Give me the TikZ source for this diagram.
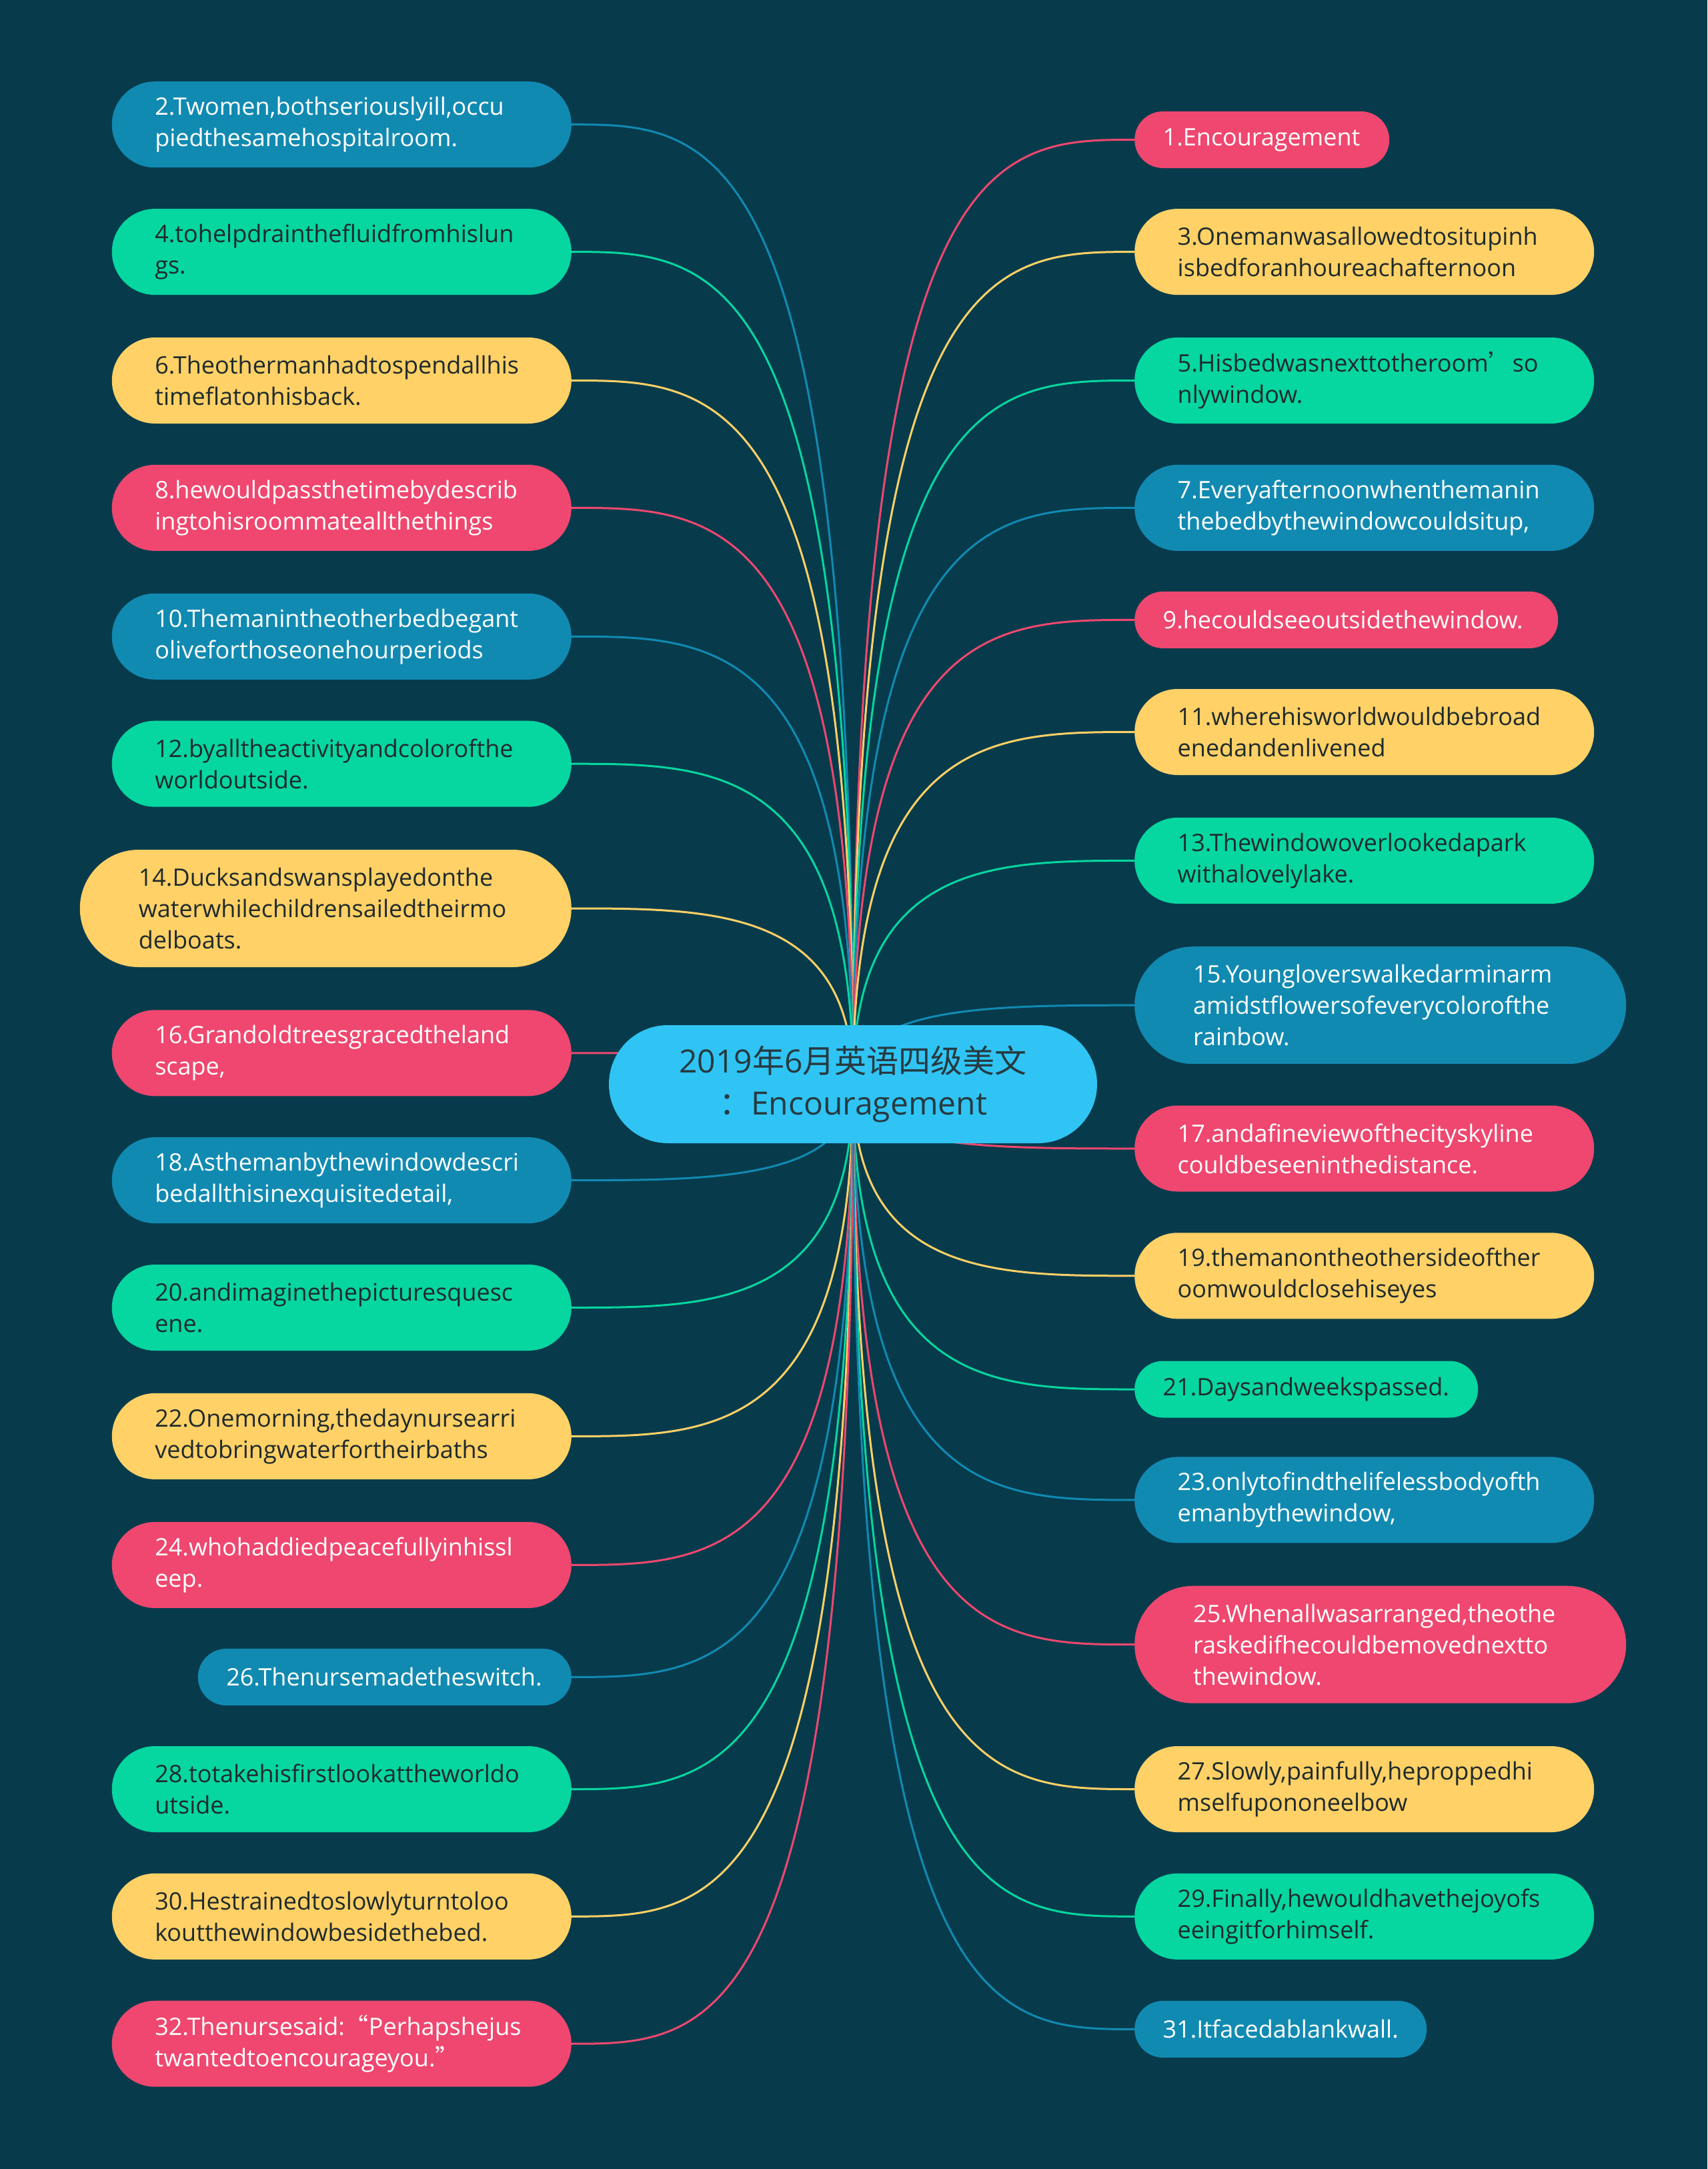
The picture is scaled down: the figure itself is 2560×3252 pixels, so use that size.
\documentclass[tikz,border=0pt]{standalone}
\usepackage{fontspec}
\setmainfont{Open Sans}
\newfontfamily\cjk{Noto Sans CJK SC}
\usetikzlibrary{calc,backgrounds}
\definecolor{bgc}{HTML}{073B4C}
\definecolor{cpk}{HTML}{EF476F}
\definecolor{cyl}{HTML}{FFD166}
\definecolor{cgr}{HTML}{06D6A0}
\definecolor{cbl}{HTML}{118AB2}
\definecolor{ccen}{HTML}{30C4F4}
\definecolor{dtext}{HTML}{1F2A2C}
\definecolor{ctext}{HTML}{263A40}
\newcommand\conn[2]{\draw[#1] (C.center) .. controls (C.center |- #2) and ($(C.center |- #2)!0.5!(#2)$) .. (#2);}
\begin{document}
\begin{tikzpicture}[x=1pt,y=-1pt,
  box/.style={inner ysep=0pt, align=left, font=\fontsize{36}{47}\selectfont},
  one/.style={box, minimum height=85pt, inner xsep=42.5pt, rounded corners=42.5pt},
  two/.style={box, minimum height=129pt, inner xsep=64.5pt, rounded corners=64.5pt},
  three/.style={box, minimum height=176pt, inner xsep=88pt, rounded corners=88pt},
  pk/.style={fill=cpk, text=white},
  yl/.style={fill=cyl, text=dtext},
  gr/.style={fill=cgr, text=dtext},
  bl/.style={fill=cbl, text=white},
  lk/.style={line width=3pt},
  lpk/.style={lk, draw=cpk},
  lyl/.style={lk, draw=cyl},
  lgr/.style={lk, draw=cgr},
  lbl/.style={lk, draw=cbl},
  lft/.style={anchor=east},
  rgt/.style={anchor=west}]
\useasboundingbox (0,0) rectangle (2560,3252);
% centre
\node[fill=ccen, text=ctext, minimum width=732pt, minimum height=177pt, rounded corners=88.5pt, align=center, inner sep=0pt, font=\fontsize{48}{63}\selectfont] (C) at (1279,1625.5) {2019{\cjk 年}6{\cjk 月英语四级美文}\\{\cjk ：}Encouragement};
% left column
\node[two,bl,lft,text width=560pt] (l2) at (857,186.7) {2.Twomen,bothseriouslyill,occu\\piedthesamehospitalroom.};
\node[two,gr,lft,text width=560pt] (l4) at (857,377.6) {4.tohelpdrainthefluidfromhislun\\gs.};
\node[two,yl,lft,text width=560pt] (l6) at (857,570.5) {6.Theothermanhadtospendallhis\\timeflatonhisback.};
\node[two,pk,lft,text width=560pt] (l8) at (857,761.4) {8.hewouldpassthetimebydescrib\\ingtohisroommateallthethings};
\node[two,bl,lft,text width=560pt] (l10) at (857,954.3) {10.Themanintheotherbedbegant\\oliveforthoseonehourperiods};
\node[two,gr,lft,text width=560pt] (l12) at (857,1145.2) {12.byalltheactivityandcolorofthe\\worldoutside.};
\node[three,yl,lft,text width=561pt] (l14) at (857,1362) {14.Ducksandswansplayedonthe\\waterwhilechildrensailedtheirmo\\delboats.};
\node[two,pk,lft,text width=560pt] (l16) at (857,1578.8) {16.Grandoldtreesgracedtheland\\scape,};
\node[two,bl,lft,text width=560pt] (l18) at (857,1769.6) {18.Asthemanbythewindowdescri\\bedallthisinexquisitedetail,};
\node[two,gr,lft,text width=560pt] (l20) at (857,1960.5) {20.andimaginethepicturesquesc\\ene.};
\node[two,yl,lft,text width=560pt] (l22) at (857,2153.4) {22.Onemorning,thedaynursearri\\vedtobringwaterfortheirbaths};
\node[two,pk,lft,text width=560pt] (l24) at (857,2346.4) {24.whohaddiedpeacefullyinhissl\\eep.};
\node[one,bl,lft,text width=475pt] (l26) at (857,2514.4) {26.Thenursemadetheswitch.};
\node[two,gr,lft,text width=560pt] (l28) at (857,2682.5) {28.totakehisfirstlookattheworldo\\utside.};
\node[two,yl,lft,text width=560pt] (l30) at (857,2873.3) {30.Hestrainedtoslowlyturntoloo\\koutthewindowbesidethebed.};
\node[two,pk,lft,text width=560pt] (l32) at (857,3064.2) {32.Thenursesaid:{\cjk “}Perhapshejus\\twantedtoencourageyou.{\cjk ”}};
% right column
\node[one,pk,rgt,text width=297pt] (r1) at (1701,209.5) {1.Encouragement};
\node[two,yl,rgt,text width=560pt] (r3) at (1701,377.6) {3.Onemanwasallowedtositupinh\\isbedforanhoureachafternoon};
\node[two,gr,rgt,text width=560pt] (r5) at (1701,570.5) {5.Hisbedwasnexttotheroom{\cjk ’}so\\nlywindow.};
\node[two,bl,rgt,text width=560pt] (r7) at (1701,761.4) {7.Everyafternoonwhenthemanin\\thebedbythewindowcouldsitup,};
\node[one,pk,rgt,text width=550pt] (r9) at (1701,929.4) {9.hecouldseeoutsidethewindow.};
\node[two,yl,rgt,text width=560pt] (r11) at (1701,1097.5) {11.wherehisworldwouldbebroad\\enedandenlivened};
\node[two,gr,rgt,text width=560pt] (r13) at (1701,1290.4) {13.Thewindowoverlookedapark\\withalovelylake.};
\node[three,bl,rgt,text width=561pt] (r15) at (1701,1507.2) {15.Youngloverswalkedarminarm\\amidstflowersofeverycolorofthe\\rainbow.};
\node[two,pk,rgt,text width=560pt] (r17) at (1701,1722) {17.andafineviewofthecityskyline\\couldbeseeninthedistance.};
\node[two,yl,rgt,text width=560pt] (r19) at (1701,1912.8) {19.themanontheothersideofther\\oomwouldclosehiseyes};
\node[one,gr,rgt,text width=430pt] (r21) at (1701,2083) {21.Daysandweekspassed.};
\node[two,bl,rgt,text width=560pt] (r23) at (1701,2248.9) {23.onlytofindthelifelessbodyofth\\emanbythewindow,};
\node[three,pk,rgt,text width=561pt] (r25) at (1701,2465.7) {25.Whenallwasarranged,theothe\\raskedifhecouldbemovednextto\\thewindow.};
\node[two,yl,rgt,text width=560pt] (r27) at (1701,2682.5) {27.Slowly,painfully,heproppedhi\\mselfupononeelbow};
\node[two,gr,rgt,text width=560pt] (r29) at (1701,2873.3) {29.Finally,hewouldhavethejoyofs\\eeingitforhimself.};
\node[one,bl,rgt,text width=353pt] (r31) at (1701,3042.4) {31.Itfacedablankwall.};
\begin{scope}[on background layer]
\fill[bgc] (0,0) rectangle (2560,3252);
\conn{lbl}{l2.east}
\conn{lgr}{l4.east}
\conn{lyl}{l6.east}
\conn{lpk}{l8.east}
\conn{lbl}{l10.east}
\conn{lgr}{l12.east}
\conn{lyl}{l14.east}
\conn{lpk}{l16.east}
\conn{lbl}{l18.east}
\conn{lgr}{l20.east}
\conn{lyl}{l22.east}
\conn{lpk}{l24.east}
\conn{lbl}{l26.east}
\conn{lgr}{l28.east}
\conn{lyl}{l30.east}
\conn{lpk}{l32.east}
\conn{lpk}{r1.west}
\conn{lyl}{r3.west}
\conn{lgr}{r5.west}
\conn{lbl}{r7.west}
\conn{lpk}{r9.west}
\conn{lyl}{r11.west}
\conn{lgr}{r13.west}
\conn{lbl}{r15.west}
\conn{lpk}{r17.west}
\conn{lyl}{r19.west}
\conn{lgr}{r21.west}
\conn{lbl}{r23.west}
\conn{lpk}{r25.west}
\conn{lyl}{r27.west}
\conn{lgr}{r29.west}
\conn{lbl}{r31.west}
\end{scope}
\end{tikzpicture}
\end{document}
